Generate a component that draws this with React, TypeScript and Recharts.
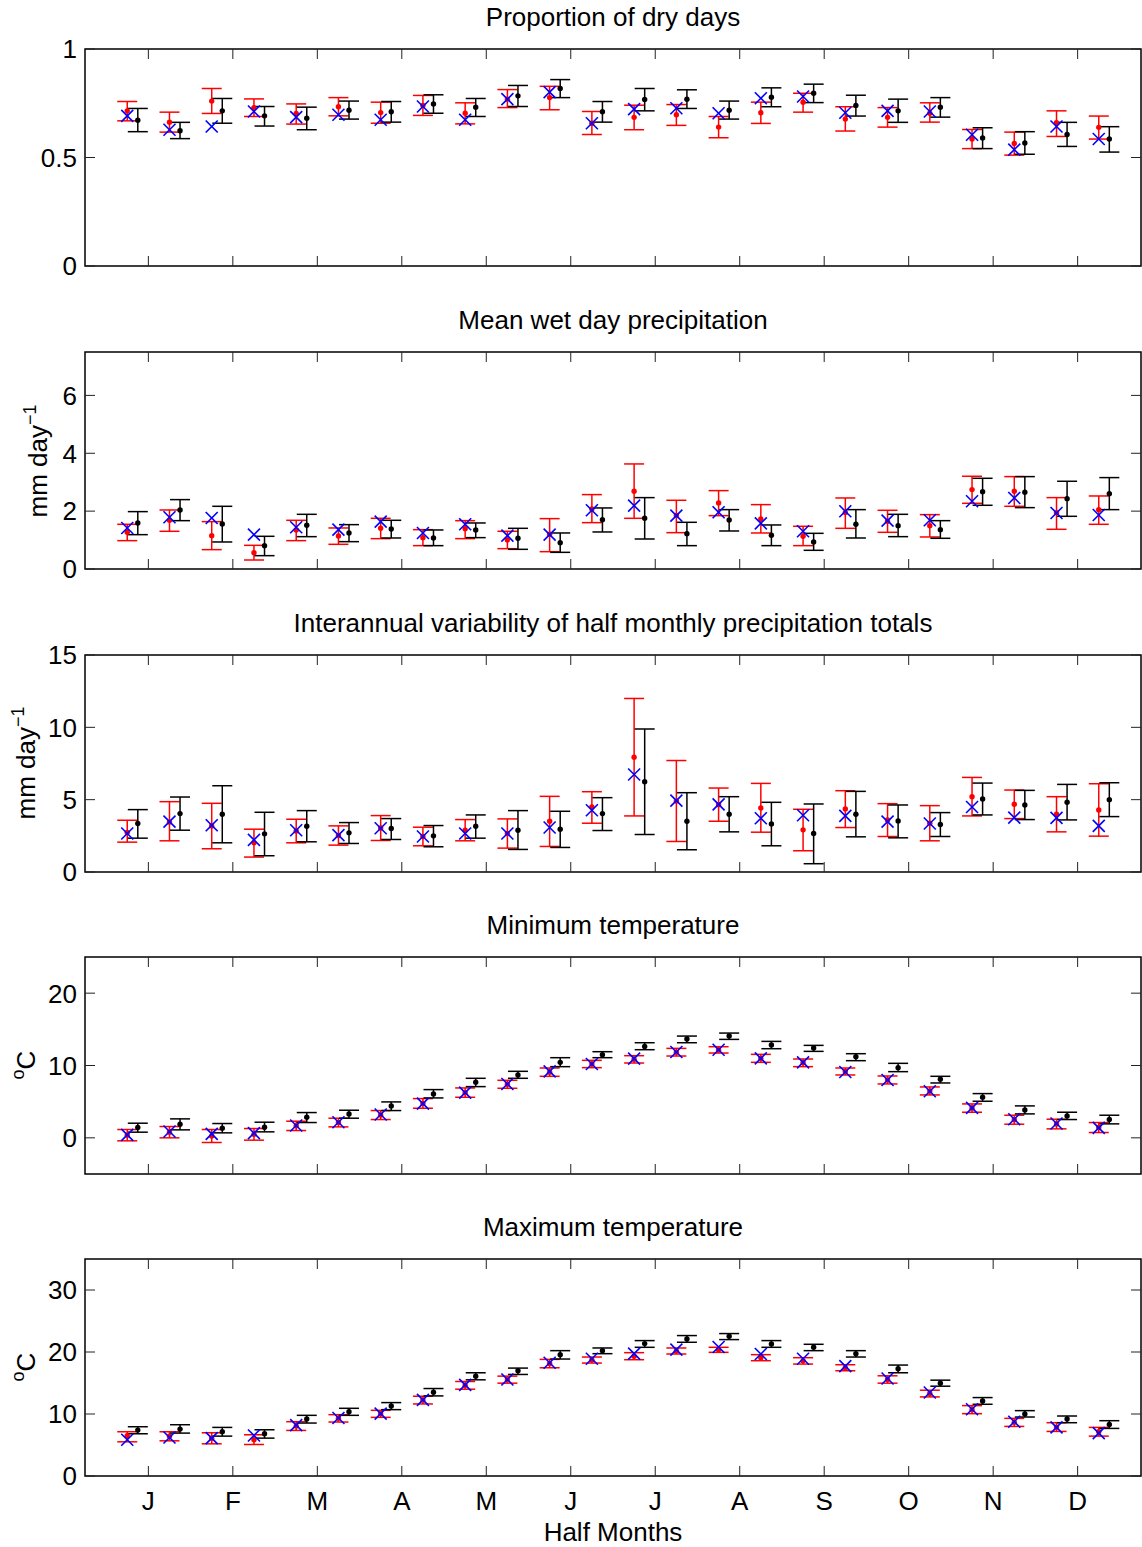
import React from 'react'
import { ScatterChart, Scatter, XAxis, YAxis, ErrorBar, ReferenceArea } from 'recharts'

// half-month axis: points at 1..24, month ticks between the two halves
const MONTHS = ['J', 'F', 'M', 'A', 'M', 'J', 'J', 'A', 'S', 'O', 'N', 'D']
const MONTH_TICKS = MONTHS.map((_, i) => 1.5 + 2 * i)

// Proportion of dry days
const dryObs = [0.692, 0.628, 0.643, 0.712, 0.686, 0.697, 0.674, 0.735, 0.674, 0.769, 0.801, 0.658, 0.723, 0.727, 0.704, 0.773, 0.781, 0.706, 0.715, 0.712, 0.605, 0.536, 0.643, 0.585]
const dryA = [0.715, 0.663, 0.76, 0.73, 0.703, 0.734, 0.707, 0.74, 0.704, 0.769, 0.776, 0.658, 0.685, 0.697, 0.64, 0.706, 0.755, 0.677, 0.685, 0.704, 0.585, 0.565, 0.66, 0.639]
const dryAHi = [0.758, 0.709, 0.818, 0.77, 0.747, 0.776, 0.755, 0.786, 0.752, 0.813, 0.828, 0.712, 0.741, 0.744, 0.689, 0.755, 0.796, 0.734, 0.73, 0.752, 0.629, 0.617, 0.715, 0.691]
const dryALo = [0.669, 0.617, 0.703, 0.689, 0.654, 0.692, 0.658, 0.694, 0.655, 0.73, 0.72, 0.606, 0.628, 0.648, 0.591, 0.657, 0.709, 0.622, 0.64, 0.663, 0.541, 0.511, 0.597, 0.585]
const dryB = [0.672, 0.623, 0.715, 0.692, 0.681, 0.718, 0.711, 0.747, 0.732, 0.784, 0.818, 0.711, 0.767, 0.769, 0.718, 0.778, 0.796, 0.74, 0.715, 0.732, 0.59, 0.567, 0.606, 0.585]
const dryBHi = [0.726, 0.662, 0.772, 0.735, 0.732, 0.76, 0.758, 0.789, 0.772, 0.832, 0.859, 0.758, 0.818, 0.812, 0.76, 0.821, 0.838, 0.787, 0.769, 0.776, 0.637, 0.619, 0.662, 0.642]
const dryBLo = [0.619, 0.587, 0.658, 0.645, 0.628, 0.677, 0.663, 0.704, 0.689, 0.735, 0.776, 0.663, 0.715, 0.726, 0.677, 0.734, 0.753, 0.691, 0.662, 0.686, 0.541, 0.515, 0.551, 0.525]

// Mean wet day precipitation
const wetObs = [1.418, 1.787, 1.764, 1.187, 1.441, 1.36, 1.637, 1.245, 1.545, 1.153, 1.187, 2.029, 2.19, 1.844, 1.96, 1.579, 1.303, 1.994, 1.671, 1.683, 2.34, 2.455, 1.937, 1.867]
const wetA = [1.268, 1.683, 1.153, 0.565, 1.349, 1.141, 1.406, 1.084, 1.395, 1.003, 1.2, 2.075, 2.686, 1.85, 2.282, 1.729, 1.13, 1.95, 1.648, 1.499, 2.744, 2.686, 1.95, 2.052]
const wetAHi = [1.545, 2.04, 1.637, 0.818, 1.683, 1.418, 1.752, 1.36, 1.671, 1.303, 1.741, 2.571, 3.631, 2.375, 2.709, 2.225, 1.476, 2.455, 2.029, 1.879, 3.205, 3.193, 2.467, 2.524]
const wetALo = [0.98, 1.303, 0.669, 0.311, 0.98, 0.853, 1.049, 0.807, 1.049, 0.703, 0.599, 1.602, 1.752, 1.256, 1.844, 1.245, 0.807, 1.406, 1.268, 1.107, 2.271, 2.167, 1.372, 1.545]
const wetB = [1.591, 2.04, 1.556, 0.807, 1.51, 1.245, 1.383, 1.072, 1.349, 1.061, 0.911, 1.706, 1.752, 1.222, 1.695, 1.164, 0.934, 1.545, 1.499, 1.36, 2.674, 2.651, 2.432, 2.605]
const wetBHi = [1.983, 2.398, 2.167, 1.13, 1.89, 1.533, 1.683, 1.349, 1.591, 1.406, 1.245, 2.11, 2.467, 1.614, 2.052, 1.522, 1.233, 2.052, 1.89, 1.671, 3.135, 3.193, 3.032, 3.159]
const wetBLo = [1.187, 1.671, 0.934, 0.461, 1.118, 0.945, 1.072, 0.807, 1.084, 0.68, 0.576, 1.28, 1.037, 0.807, 1.314, 0.807, 0.646, 1.072, 1.118, 1.061, 2.202, 2.121, 1.821, 2.052]

// Interannual variability of half monthly precipitation totals
const varObs = [2.661, 3.486, 3.234, 2.225, 2.89, 2.546, 3.028, 2.454, 2.661, 2.661, 3.073, 4.266, 6.743, 4.931, 4.679, 3.716, 3.922, 3.876, 3.486, 3.349, 4.495, 3.761, 3.739, 3.188]
const varA = [2.73, 3.45, 3.18, 2.018, 2.83, 2.52, 3.04, 2.45, 2.89, 2.66, 3.509, 4.495, 7.936, 4.9, 4.656, 4.427, 2.913, 4.358, 3.59, 3.37, 5.206, 4.679, 3.991, 4.289]
const varAHi = [3.578, 4.862, 4.748, 2.959, 3.647, 3.188, 3.899, 3.096, 3.624, 3.67, 5.229, 5.55, 11.996, 7.706, 5.803, 6.124, 4.335, 5.619, 4.725, 4.587, 6.537, 5.665, 5.206, 6.101]
const varALo = [2.064, 2.156, 1.606, 1.032, 2.018, 1.858, 2.179, 1.812, 2.156, 1.651, 1.766, 3.372, 3.876, 2.11, 3.509, 2.752, 1.468, 3.073, 2.454, 2.156, 3.876, 3.693, 2.775, 2.477]
const varB = [3.349, 4.037, 3.991, 2.638, 3.165, 2.706, 3.005, 2.5, 3.165, 2.89, 2.959, 4.037, 6.239, 3.509, 3.991, 3.326, 2.661, 3.991, 3.532, 3.28, 5.046, 4.633, 4.817, 5.0]
const varBHi = [4.312, 5.183, 5.963, 4.128, 4.243, 3.417, 3.693, 3.211, 3.945, 4.243, 4.197, 5.138, 9.885, 5.482, 5.206, 4.817, 4.702, 5.573, 4.633, 4.106, 6.147, 5.642, 6.055, 6.17]
const varBLo = [2.339, 2.89, 2.018, 1.124, 2.087, 1.972, 2.248, 1.743, 2.339, 1.56, 1.697, 2.867, 2.592, 1.537, 2.775, 1.812, 0.573, 2.431, 2.362, 2.454, 3.945, 3.624, 3.601, 3.83]

// Minimum temperature
const tminObs = [0.414, 0.874, 0.552, 0.644, 1.701, 2.161, 3.218, 4.736, 6.253, 7.448, 9.195, 10.207, 10.943, 11.862, 12.184, 10.989, 10.437, 9.103, 8.0, 6.437, 4.138, 2.575, 1.977, 1.379]
const tminA = [0.37, 0.78, 0.25, 0.48, 1.66, 2.12, 3.15, 4.76, 6.25, 7.4, 9.08, 10.21, 10.85, 11.84, 12.16, 10.99, 10.37, 9.17, 8.0, 6.48, 4.12, 2.51, 1.91, 1.43]
const tminAHi = [1.149, 1.563, 1.149, 1.287, 2.299, 2.713, 3.77, 5.425, 6.897, 7.954, 9.655, 10.713, 11.356, 12.368, 12.598, 11.54, 10.897, 9.655, 8.552, 7.034, 4.69, 3.126, 2.575, 2.115]
const tminALo = [-0.414, 0.0, -0.644, -0.322, 1.011, 1.517, 2.529, 4.092, 5.609, 6.851, 8.506, 9.701, 10.345, 11.31, 11.724, 10.437, 9.839, 8.69, 7.448, 5.931, 3.54, 1.885, 1.241, 0.736]
const tminB = [1.425, 1.885, 1.333, 1.471, 2.851, 3.31, 4.414, 6.069, 7.678, 8.69, 10.437, 11.494, 12.644, 13.655, 14.069, 12.828, 12.414, 11.218, 9.701, 8.092, 5.609, 3.862, 3.034, 2.529]
const tminBHi = [2.023, 2.621, 1.977, 2.161, 3.494, 3.816, 4.966, 6.667, 8.23, 9.195, 11.08, 11.908, 13.149, 14.069, 14.483, 13.333, 12.782, 11.632, 10.299, 8.506, 6.115, 4.414, 3.54, 3.126]
const tminBLo = [0.782, 1.103, 0.69, 0.828, 2.115, 2.713, 3.77, 5.517, 7.08, 8.23, 9.839, 11.08, 12.184, 13.149, 13.609, 12.322, 11.954, 10.667, 9.149, 7.586, 5.057, 3.31, 2.529, 1.931]

// Maximum temperature
const tmaxObs = [5.838, 6.216, 6.108, 6.541, 8.216, 9.351, 10.054, 12.27, 14.703, 15.568, 18.27, 18.919, 19.73, 20.378, 20.811, 19.676, 18.919, 17.73, 15.73, 13.459, 10.757, 8.757, 7.838, 6.919]
const tmaxA = [6.486, 6.41, 6.08, 5.838, 8.05, 9.3, 10.03, 12.24, 14.62, 15.54, 18.14, 18.7, 19.32, 20.16, 20.35, 19.081, 18.57, 17.46, 15.57, 13.3, 10.7, 8.65, 7.89, 7.14]
const tmaxAHi = [7.135, 7.135, 6.973, 6.649, 8.757, 9.892, 10.595, 12.865, 15.243, 16.108, 18.811, 19.189, 19.892, 20.649, 20.757, 19.568, 19.081, 17.946, 16.162, 13.838, 11.351, 9.297, 8.595, 7.838]
const tmaxALo = [5.514, 5.676, 5.189, 5.081, 7.351, 8.703, 9.459, 11.622, 14.0, 14.973, 17.459, 18.216, 18.757, 19.676, 19.946, 18.595, 18.054, 16.973, 14.973, 12.757, 10.054, 8.0, 7.189, 6.432]
const tmaxB = [7.405, 7.568, 7.135, 6.811, 9.189, 10.378, 11.297, 13.514, 16.108, 16.973, 19.568, 20.216, 21.351, 22.108, 22.541, 21.297, 20.757, 19.73, 17.297, 14.973, 12.108, 10.0, 9.189, 8.324]
const tmaxBHi = [7.946, 8.27, 7.838, 7.459, 9.784, 10.919, 11.838, 14.108, 16.649, 17.405, 20.216, 20.649, 21.838, 22.649, 22.973, 21.838, 21.243, 20.216, 17.892, 15.459, 12.649, 10.541, 9.676, 8.919]
const tmaxBLo = [6.811, 6.919, 6.432, 6.108, 8.541, 9.784, 10.703, 12.919, 15.514, 16.378, 18.865, 19.73, 20.757, 21.568, 22.0, 20.757, 20.216, 19.189, 16.649, 14.486, 11.568, 9.514, 8.595, 7.676]

const FONT = '"Liberation Sans", Arial, Helvetica, sans-serif'
const FS = 26
const W = 1142
const LEFT = 85
const PLOT_W = 1056
const PLOT_H = 217
const TICK_LEN = 10
const PAD_TOP = 20

const XTick = (props: any) => {
  const { x, y, index, showLabel } = props
  return (
    <g>
      <line x1={x} x2={x} y1={y} y2={y - TICK_LEN} stroke="#222" strokeWidth={1} />
      <line x1={x} x2={x} y1={y - PLOT_H} y2={y - PLOT_H + TICK_LEN} stroke="#222" strokeWidth={1} />
      {showLabel && (
        <text x={x} y={y + 34} textAnchor="middle" fontSize={FS} fontFamily={FONT} fill="#000">
          {MONTHS[index]}
        </text>
      )}
    </g>
  )
}

const YTick = (props: any) => {
  const { x, y, payload } = props
  return (
    <g>
      <line x1={x} x2={x + TICK_LEN} y1={y} y2={y} stroke="#222" strokeWidth={1} />
      <line x1={x + PLOT_W} x2={x + PLOT_W - TICK_LEN} y1={y} y2={y} stroke="#222" strokeWidth={1} />
      <text x={x - 8} y={y} dy="0.36em" textAnchor="end" fontSize={FS} fontFamily={FONT} fill="#000">
        {String(payload.value)}
      </text>
    </g>
  )
}

const dot = (color: string) => (p: any) => <circle cx={p.cx} cy={p.cy} r={2.7} fill={color} />

const cross = (p: any) => (
  <g stroke="#0000ff" strokeWidth={1.6}>
    <line x1={p.cx - 6} y1={p.cy - 6} x2={p.cx + 6} y2={p.cy + 6} />
    <line x1={p.cx - 6} y1={p.cy + 6} x2={p.cx + 6} y2={p.cy - 6} />
  </g>
)

const sup = { fontSize: 18, position: 'relative' as const, top: -11 }

function YTitle({ x, y, children }: any) {
  return (
    <div
      style={{
        position: 'absolute', left: x, top: y, transform: 'translate(-50%, -50%) rotate(-90deg)',
        fontSize: FS, lineHeight: `${FS}px`, whiteSpace: 'nowrap', fontFamily: FONT,
      }}
    >
      {children}
    </div>
  )
}

function Panel(props: any) {
  const { top, title, domain, yTicks, obs, a, aLo, aHi, b, bLo, bHi, last } = props
  const red = a.map((v: number, i: number) => ({ x: i + 1, y: v, err: [v - aLo[i], aHi[i] - v] }))
  const black = b.map((v: number, i: number) => ({ x: i + 1.25, y: v, err: [v - bLo[i], bHi[i] - v] }))
  const blue = obs.map((v: number, i: number) => ({ x: i + 1, y: v }))
  return (
    <>
      <div
        style={{
          position: 'absolute', left: LEFT, width: PLOT_W, top: top - 45, textAlign: 'center',
          fontSize: FS, lineHeight: `${FS}px`, fontFamily: FONT,
        }}
      >
        {title}
      </div>
      <div style={{ position: 'absolute', left: 0, top: top - PAD_TOP }}>
        <ScatterChart width={W} height={PAD_TOP + PLOT_H + 60} margin={{ top: PAD_TOP, right: 1, bottom: 0, left: 0 }}>
          <XAxis
            type="number" dataKey="x" domain={[0, 25]} ticks={MONTH_TICKS} interval={0} allowDataOverflow
            axisLine={false} tickLine={false} tickSize={0} tickMargin={0} height={60}
            tick={(p: any) => <XTick {...p} showLabel={last} />}
          />
          <YAxis
            type="number" dataKey="y" domain={domain} ticks={yTicks} interval={0} allowDataOverflow
            axisLine={false} tickLine={false} tickSize={0} tickMargin={0} width={LEFT}
            tick={(p: any) => <YTick {...p} />}
          />
          <ReferenceArea x1={0} x2={25} y1={domain[0]} y2={domain[1]} fill="none" fillOpacity={0} stroke="#000" strokeWidth={1.5} strokeOpacity={1} />
          <Scatter data={red} isAnimationActive={false} shape={dot('#ff0000')}>
            <ErrorBar dataKey="err" direction="y" width={10} stroke="#ff0000" strokeWidth={1.5} isAnimationActive={false} />
          </Scatter>
          <Scatter data={black} isAnimationActive={false} shape={dot('#000000')}>
            <ErrorBar dataKey="err" direction="y" width={10} stroke="#000000" strokeWidth={1.5} isAnimationActive={false} />
          </Scatter>
          <Scatter data={blue} isAnimationActive={false} shape={cross} />
        </ScatterChart>
      </div>
    </>
  )
}

export default function App() {
  return (
    <div style={{ position: 'absolute', left: 0, top: 0, width: 1142, height: 1547, background: '#fff', fontFamily: FONT }}>
      <Panel top={49} title="Proportion of dry days" domain={[0, 1]} yTicks={[0, 0.5, 1]}
        obs={dryObs} a={dryA} aLo={dryALo} aHi={dryAHi} b={dryB} bLo={dryBLo} bHi={dryBHi} />
      <Panel top={352} title="Mean wet day precipitation" domain={[0, 7.5]} yTicks={[0, 2, 4, 6]}
        obs={wetObs} a={wetA} aLo={wetALo} aHi={wetAHi} b={wetB} bLo={wetBLo} bHi={wetBHi} />
      <Panel top={655} title="Interannual variability of half monthly precipitation totals" domain={[0, 15]} yTicks={[0, 5, 10, 15]}
        obs={varObs} a={varA} aLo={varALo} aHi={varAHi} b={varB} bLo={varBLo} bHi={varBHi} />
      <Panel top={957} title="Minimum temperature" domain={[-5, 25]} yTicks={[0, 10, 20]}
        obs={tminObs} a={tminA} aLo={tminALo} aHi={tminAHi} b={tminB} bLo={tminBLo} bHi={tminBHi} />
      <Panel top={1259} title="Maximum temperature" domain={[0, 35]} yTicks={[0, 10, 20, 30]} last
        obs={tmaxObs} a={tmaxA} aLo={tmaxALo} aHi={tmaxAHi} b={tmaxB} bLo={tmaxBLo} bHi={tmaxBHi} />

      <YTitle x={39} y={461}>mm day<span style={sup}>−1</span></YTitle>
      <YTitle x={27} y={763}>mm day<span style={sup}>−1</span></YTitle>
      <YTitle x={27} y={1065}><span style={sup}>o</span>C</YTitle>
      <YTitle x={27} y={1367}><span style={sup}>o</span>C</YTitle>

      <div style={{ position: 'absolute', left: LEFT, width: PLOT_W, top: 1519, textAlign: 'center', fontSize: FS, lineHeight: `${FS}px`, fontFamily: FONT }}>
        Half Months
      </div>
    </div>
  )
}
